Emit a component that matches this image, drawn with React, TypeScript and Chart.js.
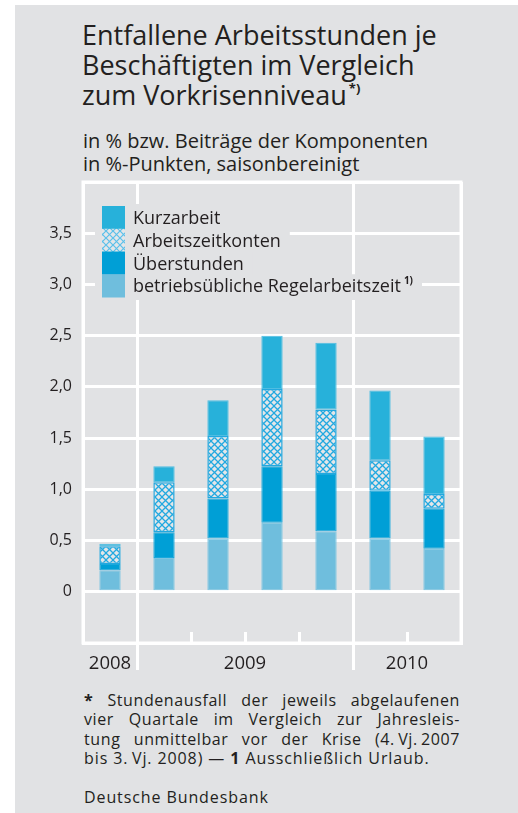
import React, { useEffect, useRef } from 'react';
import { Chart, registerables } from 'chart.js';
Chart.register(...registerables);

const categories = ['2008 Q4', '2009 Q1', '2009 Q2', '2009 Q3', '2009 Q4', '2010 Q1', '2010 Q2'];
const years = ['2008', '2009', '2010'];
const quartersPerYear = [1, 4, 2];
const regelarbeitszeit = [0.21, 0.33, 0.52, 0.675, 0.59, 0.52, 0.42];
const ueberstunden = [0.06, 0.25, 0.39, 0.55, 0.56, 0.465, 0.39];
const arbeitszeitkonten = [0.175, 0.49, 0.61, 0.755, 0.63, 0.30, 0.145];
const kurzarbeit = [0.025, 0.155, 0.35, 0.52, 0.65, 0.68, 0.56];
const seriesLabels = ['betriebsübliche Regelarbeitszeit', 'Überstunden', 'Arbeitszeitkonten', 'Kurzarbeit'];
const seriesNotes = ['1)', '', '', ''];
const yMin = -0.5;
const yMax = 4.0;
const yStep = 0.5;
const labelledTicks = [0, 0.5, 1, 1.5, 2, 2.5, 3, 3.5];

const BG = '#e1e2e4';
const TEXT = '#231f20';
const FONT = '"Open Sans", "Noto Sans", sans-serif';

function makeHatch(bg: string, line: string, lw: number) {
  const s = 7;
  const c = document.createElement('canvas');
  c.width = s;
  c.height = s;
  const g = c.getContext('2d')!;
  g.fillStyle = bg;
  g.fillRect(0, 0, s, s);
  g.strokeStyle = line;
  g.lineWidth = lw;
  g.beginPath();
  g.moveTo(-1, -1);
  g.lineTo(s + 1, s + 1);
  g.moveTo(s + 1, -1);
  g.lineTo(-1, s + 1);
  g.stroke();
  return g.createPattern(c, 'repeat')!;
}

const decorPlugin = {
  id: 'decor',
  beforeDatasetsDraw(chart: any) {
    const { ctx, chartArea } = chart;
    ctx.save();
    ctx.strokeStyle = '#ffffff';
    ctx.lineWidth = 3;
    ctx.strokeRect(chartArea.left, chartArea.top, chartArea.right - chartArea.left, chartArea.bottom - chartArea.top);
    const sw = 23;
    const rowH = 22.75;
    const x0 = chartArea.left + 19;
    const y0 = chartArea.top + 24;
    const textX = x0 + 31;
    const order = [3, 2, 1, 0];
    const LFONT = '18px ' + FONT;
    order.forEach((di, row) => {
      const ds = chart.data.datasets[di];
      const y = y0 + row * rowH;
      ctx.font = LFONT;
      let tw = ctx.measureText(ds.label).width;
      const note = seriesNotes[di];
      if (note) {
        ctx.font = 'bold 10px ' + FONT;
        tw += 3 + ctx.measureText(note).width;
      }
      ctx.fillStyle = BG;
      ctx.fillRect(x0 - 7, y - (row === 0 ? 2 : 0), textX - x0 + 7 + tw + 9, rowH + (row === 3 ? 3 : 1) + (row === 0 ? 2 : 0));
    });
    order.forEach((di, row) => {
      const ds = chart.data.datasets[di];
      const y = y0 + row * rowH;
      ctx.fillStyle = ds.legendColor || ds.backgroundColor;
      ctx.fillRect(x0, y, sw, rowH + 0.5);
      ctx.fillStyle = TEXT;
      ctx.font = LFONT;
      ctx.textBaseline = 'alphabetic';
      ctx.textAlign = 'left';
      ctx.fillText(ds.label, textX, y + 18);
      const note = seriesNotes[di];
      if (note) {
        const w = ctx.measureText(ds.label).width;
        ctx.font = 'bold 10px ' + FONT;
        ctx.fillText(note, textX + w + 3, y + 10);
      }
    });
    ctx.restore();
  },
  afterDraw(chart: any) {
    const { ctx, chartArea } = chart;
    const x = chart.scales.x;
    const n = categories.length;
    const boundary = (i: number) => (x.getPixelForValue(i - 1) + x.getPixelForValue(i)) / 2;
    ctx.save();
    ctx.strokeStyle = '#ffffff';
    ctx.lineWidth = 3;
    const yearStarts: number[] = [];
    let acc = 0;
    quartersPerYear.forEach((q) => { yearStarts.push(acc); acc += q; });
    for (let i = 1; i < n; i++) {
      const px = Math.round(boundary(i)) + 0.5;
      ctx.beginPath();
      if (yearStarts.includes(i)) {
        ctx.moveTo(px, chartArea.bottom);
        ctx.lineTo(px, chartArea.bottom + 27);
      } else {
        ctx.moveTo(px, chartArea.bottom - 11);
        ctx.lineTo(px, chartArea.bottom);
      }
      ctx.stroke();
    }
    ctx.fillStyle = TEXT;
    ctx.font = '18.5px ' + FONT;
    ctx.textAlign = 'center';
    ctx.textBaseline = 'middle';
    years.forEach((yr, k) => {
      const s = yearStarts[k];
      const e = s + quartersPerYear[k] - 1;
      const left = s === 0 ? chartArea.left : boundary(s);
      const right = e === n - 1 ? chartArea.right : boundary(e + 1);
      ctx.fillText(yr, (left + right) / 2, chartArea.bottom + 21);
    });
    ctx.restore();
  },
};

function ChartView() {
  const ref = useRef<HTMLCanvasElement>(null);
  useEffect(() => {
    if (!ref.current) return;
    const hatch = makeHatch('#e4e6e8', '#22a9e0', 1.3);
    const hatchLegend = makeHatch('#e4e6e8', '#5cc0ea', 1.2);
    const chart = new Chart(ref.current, {
      type: 'bar',
      data: {
        labels: categories,
        datasets: [
          { label: seriesLabels[0], data: regelarbeitszeit, backgroundColor: '#6fbedd', borderColor: '#7cc5e2', borderWidth: 1, borderSkipped: false },
          { label: seriesLabels[1], data: ueberstunden, backgroundColor: '#009fd6', borderColor: '#1aa8dc', borderWidth: 1, borderSkipped: false },
          { label: seriesLabels[2], data: arbeitszeitkonten, backgroundColor: hatch, borderColor: '#22a8df', borderWidth: 1.5, borderSkipped: false, legendColor: hatchLegend } as any,
          { label: seriesLabels[3], data: kurzarbeit, backgroundColor: '#27b1da', borderColor: '#4fbde2', borderWidth: 1, borderSkipped: false },
        ],
      },
      options: {
        animation: false,
        responsive: false,
        maintainAspectRatio: false,
        events: [],
        layout: { padding: { top: 7, right: 57, left: 0, bottom: 0 } },
        datasets: { bar: { categoryPercentage: 1, barPercentage: 0.395 } },
        plugins: { legend: { display: false }, tooltip: { enabled: false }, title: { display: false } },
        scales: {
          x: {
            stacked: true,
            grid: {
              offset: true,
              drawTicks: false,
              lineWidth: 3,
              color: (c: any) => {
                if (c.index === undefined) return '#ffffff';
                let acc = 0;
                const starts: number[] = [];
                quartersPerYear.forEach((q) => { starts.push(acc); acc += q; });
                return starts.includes(c.index) ? '#ffffff' : 'rgba(0,0,0,0)';
              },
            },
            border: { display: true, color: '#ffffff', width: 3 },
            ticks: { display: false },
            afterFit: (s: any) => { s.height = 37; s.paddingLeft = 0; s.paddingRight = 0; },
          },
          y: {
            stacked: true,
            min: yMin,
            max: yMax,
            grid: { drawTicks: false, lineWidth: 3, color: '#ffffff' },
            border: { display: true, color: '#ffffff', width: 3 },
            ticks: {
              stepSize: yStep,
              padding: 11,
              color: TEXT,
              font: { family: FONT, size: 16 },
              callback: (v: any) => {
                const num = Number(v);
                if (!labelledTicks.some((t) => Math.abs(t - num) < 1e-9)) return '';
                return num === 0 ? '0' : num.toFixed(1).replace('.', ',');
              },
            },
            afterFit: (s: any) => { s.width = 68; s.paddingTop = 0; s.paddingBottom = 0; },
          },
        },
      },
      plugins: [decorPlugin],
    });
    return () => chart.destroy();
  }, []);
  return (
    <canvas
      ref={ref}
      width={503}
      height={505}
      style={{ position: 'absolute', left: 15, top: 175, width: 503, height: 505 }}
    />
  );
}

export default function App() {
  const lineStyle: React.CSSProperties = { height: 19.3, textAlign: 'justify', textAlignLast: 'justify' as any };
  return (
    <div style={{ position: 'absolute', left: 0, top: 0, width: 518, height: 813, background: '#ffffff', overflow: 'hidden', fontFamily: FONT, color: TEXT }}>
      <div style={{ position: 'absolute', left: 15, top: 5, width: 503, height: 808, background: BG }} />
      <div style={{ position: 'absolute', left: 82, top: 20, fontSize: 27, lineHeight: '30px', whiteSpace: 'nowrap' }}>
        <div>Entfallene Arbeitsstunden je</div>
        <div>Beschäftigten im Vergleich</div>
        <div>
          zum Vorkrisenniveau
          <span style={{ fontSize: 13, fontWeight: 'bold', position: 'relative', top: -12, marginLeft: 2 }}>*)</span>
        </div>
      </div>
      <div style={{ position: 'absolute', left: 83, top: 129, fontSize: 20, lineHeight: '23px', whiteSpace: 'nowrap' }}>
        <div>in % bzw. Beiträge der Komponenten</div>
        <div>in %-Punkten, saisonbereinigt</div>
      </div>
      <ChartView />
      <div style={{ position: 'absolute', left: 84, top: 691, width: 376, fontSize: 16, lineHeight: '19.3px', letterSpacing: '0.6px' }}>
        <div style={lineStyle}><b>*</b> Stundenausfall der jeweils abgelaufenen</div>
        <div style={lineStyle}>vier Quartale im Vergleich zur Jahresleis-</div>
        <div style={lineStyle}>tung unmittelbar vor der Krise (4.{'\u2009'}Vj.{'\u2009'}2007</div>
        <div style={{ height: 19.3, whiteSpace: 'nowrap', letterSpacing: '0.9px' }}>bis 3.{'\u2009'}Vj. 2008) — <b>1</b> Ausschließlich Urlaub.</div>
      </div>
      <div style={{ position: 'absolute', left: 84, top: 788, fontSize: 16, lineHeight: '19.3px', letterSpacing: '0.9px', whiteSpace: 'nowrap' }}>Deutsche Bundesbank</div>
    </div>
  );
}
